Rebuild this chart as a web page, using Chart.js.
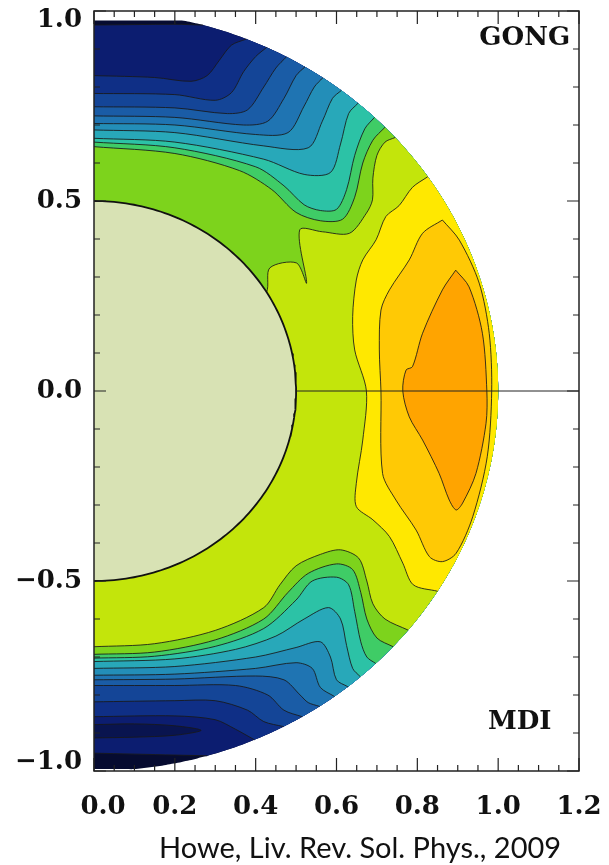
<!DOCTYPE html>
<html>
<head>
<meta charset="utf-8">
<script src="https://cdn.jsdelivr.net/npm/chart.js@4.4.1/dist/chart.umd.min.js"></script>
<style>
  body { margin: 0; background: #fff; }
  #wrap { position: relative; width: 609px; height: 865px; }
  #caption {
    position: absolute; left: 159px; top: 829px;
    font: 29px Lato, "Open Sans", sans-serif; color: #111; white-space: nowrap;
  }
</style>
</head>
<body>
<div id="wrap">
  <canvas id="rotChart" width="609" height="865"></canvas>
  <div id="caption">Howe, Liv. Rev. Sol. Phys., 2009</div>
</div>
<script>
// contour colours, slowest (pole) to fastest (equator, near surface)
const bandColors = ['#060b30', '#0c1d70', '#0f2f86', '#144597', '#1a5ca6', '#1f74b2', '#238eb8',
                    '#28a8b9', '#2cc2a6', '#3fcc66', '#7dd31c', '#c3e50b', '#ffe800', '#ffc905', '#ffa400'];
const tongueColor = '#09144f';
const coreColor = '#d8e2b4';
const coreRadius = 0.5;

// northern contours (GONG), from the axis out to the surface; line k separates band k-1 and k
const north = [
    [[0, 0.963], [0.2, 0.965], [0.27, 0.963]],
    [[0, 0.83], [0.15, 0.825], [0.24, 0.815], [0.28, 0.83], [0.31, 0.87], [0.34, 0.91], [0.377, 0.926]],
    [[0, 0.783], [0.2, 0.78], [0.3, 0.765], [0.34, 0.785], [0.37, 0.84], [0.40, 0.88], [0.427, 0.904]],
    [[0, 0.748], [0.2, 0.745], [0.33, 0.73], [0.38, 0.74], [0.42, 0.80], [0.45, 0.85], [0.476, 0.879]],
    [[0, 0.724], [0.2, 0.72], [0.37, 0.70], [0.43, 0.71], [0.47, 0.77], [0.50, 0.83], [0.522, 0.853]],
    [[0, 0.704], [0.2, 0.70], [0.4, 0.675], [0.48, 0.68], [0.52, 0.75], [0.545, 0.80], [0.566, 0.824]],
    [[0, 0.687], [0.2, 0.68], [0.42, 0.645], [0.53, 0.64], [0.565, 0.71], [0.59, 0.77], [0.612, 0.791]],
    [[0, 0.665], [0.2, 0.655], [0.42, 0.61], [0.52, 0.57], [0.585, 0.575], [0.61, 0.65], [0.63, 0.73], [0.653, 0.757]],
    [[0, 0.655], [0.2, 0.64], [0.4, 0.59], [0.47, 0.54], [0.52, 0.49], [0.56, 0.475], [0.6, 0.478], [0.625, 0.53],
     [0.645, 0.62], [0.67, 0.69], [0.694, 0.72]],
    [[0, 0.643], [0.2, 0.625], [0.36, 0.58], [0.44, 0.53], [0.5, 0.47], [0.56, 0.448], [0.615, 0.452], [0.645, 0.51],
     [0.665, 0.6], [0.69, 0.66], [0.72, 0.694]],
    [[0, 0.1], [0.38, 0.2], [0.427, 0.26], [0.435, 0.324], [0.501, 0.337], [0.526, 0.284], [0.509, 0.424],
     [0.565, 0.419], [0.632, 0.415], [0.674, 0.468], [0.689, 0.503], [0.69, 0.56], [0.70, 0.62], [0.72, 0.655], [0.745, 0.667]]
];

// southern contours (MDI), same order
const south = [
    [[0, -0.953], [0.2, -0.958], [0.28, -0.96]],
    [[0, -0.857], [0.2, -0.855], [0.3, -0.865], [0.35, -0.89], [0.397, -0.918]],
    [[0, -0.818], [0.2, -0.815], [0.3, -0.815], [0.38, -0.84], [0.42, -0.87], [0.469, -0.883]],
    [[0, -0.775], [0.2, -0.775], [0.35, -0.775], [0.43, -0.80], [0.47, -0.84], [0.515, -0.857]],
    [[0, -0.76], [0.2, -0.758], [0.4, -0.75], [0.47, -0.76], [0.51, -0.80], [0.53, -0.82], [0.558, -0.830]],
    [[0, -0.748], [0.2, -0.745], [0.4, -0.73], [0.5, -0.715], [0.54, -0.73], [0.56, -0.78], [0.595, -0.804]],
    [[0, -0.73], [0.2, -0.725], [0.4, -0.70], [0.5, -0.675], [0.56, -0.66], [0.585, -0.70], [0.60, -0.76], [0.628, -0.778]],
    [[0, -0.712], [0.2, -0.705], [0.35, -0.68], [0.45, -0.645], [0.52, -0.60], [0.58, -0.57], [0.61, -0.6], [0.625, -0.67],
     [0.64, -0.73], [0.659, -0.752]],
    [[0, -0.703], [0.15, -0.698], [0.3, -0.672], [0.42, -0.625], [0.5, -0.55], [0.54, -0.50], [0.6, -0.49], [0.63, -0.51],
     [0.645, -0.58], [0.66, -0.66], [0.675, -0.70], [0.697, -0.717]],
    [[0, -0.693], [0.15, -0.687], [0.3, -0.655], [0.42, -0.60], [0.48, -0.53], [0.53, -0.48], [0.6, -0.455], [0.64, -0.47],
     [0.66, -0.53], [0.675, -0.6], [0.70, -0.65], [0.74, -0.673]],
    [[0, -0.673], [0.15, -0.665], [0.3, -0.63], [0.42, -0.57], [0.46, -0.51], [0.5, -0.46], [0.56, -0.43], [0.61, -0.418],
     [0.655, -0.44], [0.675, -0.5], [0.69, -0.56], [0.72, -0.60], [0.777, -0.629]]
];

// slow tongue inside the southern polar band
const polarTongue = [[0, -0.878], [0.1, -0.876], [0.2, -0.881], [0.265, -0.893], [0.2, -0.906], [0.1, -0.911], [0, -0.913]];

// fast belt near the surface: yellow edge runs surface to surface, gold and orange are closed
const yellowEdge = [[0.826, 0.564], [0.788, 0.536], [0.755, 0.488], [0.722, 0.459], [0.698, 0.398], [0.665, 0.345],
    [0.649, 0.292], [0.640, 0.196], [0.645, 0.108], [0.674, 0], [0.665, -0.129], [0.649, -0.243], [0.649, -0.304],
    [0.690, -0.339], [0.731, -0.383], [0.764, -0.453], [0.79, -0.51], [0.85, -0.527]];
const goldEdge = [[0.862, 0.45], [0.813, 0.415], [0.780, 0.345], [0.731, 0.266], [0.710, 0.213], [0.706, 0.108],
    [0.710, 0], [0.714, -0.217], [0.747, -0.287], [0.797, -0.366], [0.830, -0.436], [0.862, -0.449], [0.896, -0.427],
    [0.937, -0.331], [0.973, -0.173], [0.984, 0], [0.978, 0.151], [0.953, 0.284], [0.904, 0.397], [0.862, 0.45]];
const orangeEdge = [[0.895, 0.318], [0.862, 0.266], [0.813, 0.152], [0.788, 0.064], [0.772, 0.055], [0.764, 0],
    [0.780, -0.068], [0.813, -0.129], [0.854, -0.217], [0.879, -0.287], [0.896, -0.313], [0.912, -0.295],
    [0.945, -0.217], [0.970, -0.085], [0.972, 0], [0.961, 0.152], [0.928, 0.274], [0.895, 0.318]];

// latitude cut of the inversion at the poles
const yTop = 0.975;
const yBottom = -0.995;

const xMajor = [0, 0.2, 0.4, 0.6, 0.8, 1.0, 1.2];
const yMajor = [-1, -0.5, 0, 0.5, 1];
const panelLabels = [
    { text: 'GONG', x: 1.178, y: 0.928 },
    { text: 'MDI', x: 1.132, y: -0.872 }
];

// --- geometry helpers ---
function onSurface(p) {
    const r = Math.hypot(p[0], p[1]);
    return [p[0] / r, p[1] / r];
}
function arc(a0, a1, rad) {
    const pts = [];
    const n = Math.max(2, Math.ceil(Math.abs(a1 - a0) / 0.02));
    for (let i = 0; i <= n; i++) {
        const a = a0 + (a1 - a0) * i / n;
        pts.push([rad * Math.cos(a), Math.max(yBottom, Math.min(yTop, rad * Math.sin(a)))]);
    }
    return pts;
}
function angleOf(p) { return Math.atan2(p[1], p[0]); }
function toXY(pts) { return pts.map(([x, y]) => ({ x, y })); }
function withSurfaceEnd(line) {
    const out = line.slice();
    out[out.length - 1] = onSurface(out[out.length - 1]);
    return out;
}

// --- datasets, in painting order ---
const layers = [];
function addFill(pts, color) {
    layers.push({ data: toXY(pts), showLine: true, fill: 'shape', backgroundColor: color,
                  borderWidth: 0, borderColor: 'rgba(0,0,0,0)', pointRadius: 0, tension: 0.3 });
}
function addLine(pts, color, width, tension) {
    layers.push({ data: toXY(pts), showLine: true, fill: false, borderColor: color,
                  borderWidth: width, pointRadius: 0, tension: tension });
}

// whole half disk in the slowest colour
addFill([[0, yTop], ...arc(Math.PI / 2, -Math.PI / 2, 1), [0, yBottom]], bandColors[0]);

// bands 1..11: region between the northern and southern contour of the same level
for (let k = 1; k <= north.length; k++) {
    const up = withSurfaceEnd(north[k - 1]);
    const dn = withSurfaceEnd(south[k - 1]);
    const poly = [...up, ...arc(angleOf(up[up.length - 1]), angleOf(dn[dn.length - 1]), 1), ...dn.slice().reverse()];
    addFill(poly, bandColors[k]);
}
addFill(polarTongue, tongueColor);

const yEdge = withSurfaceEnd(yellowEdge);
yEdge[0] = onSurface(yEdge[0]);
addFill([...yEdge, ...arc(angleOf(yEdge[yEdge.length - 1]), angleOf(yEdge[0]), 1)], bandColors[12]);
addFill(goldEdge, bandColors[13]);
addFill(orangeEdge, bandColors[14]);

// contour lines
const lineColor = 'rgba(25,25,25,0.85)';
north.forEach(l => addLine(withSurfaceEnd(l), lineColor, 1, 0.3));
south.forEach(l => addLine(withSurfaceEnd(l), lineColor, 1, 0.3));
addLine(polarTongue, lineColor, 1, 0.3);
addLine(yEdge, lineColor, 1, 0.3);
addLine(goldEdge, lineColor, 1, 0.3);
addLine(orangeEdge, lineColor, 1, 0.3);

// radiative interior and equator
layers.push({ data: toXY(arc(Math.PI / 2, -Math.PI / 2, coreRadius)), showLine: true, fill: 'shape',
              backgroundColor: coreColor, borderColor: '#111', borderWidth: 1.8, pointRadius: 0, tension: 0 });
addLine([[coreRadius, 0], [1.2, 0]], '#222', 1, 0);

// highest order is painted first
layers.forEach((ds, i) => { ds.order = 1000 - i; });

const fmt = v => (v < 0 ? '\u2212' : '') + Math.abs(v).toFixed(1);
const tickFont = { family: 'DejaVu Serif', weight: 'bold', size: 26, lineHeight: 0.7 };

// box with inward ticks on all four sides
const frameTicks = {
    id: 'frameTicks',
    afterDatasetsDraw(chart) {
        const { ctx, chartArea: a, scales: { x, y } } = chart;
        ctx.save();
        ctx.strokeStyle = '#222';
        ctx.lineWidth = 1.5;
        ctx.strokeRect(a.left, a.top, a.right - a.left, a.bottom - a.top);
        ctx.lineWidth = 1.2;
        ctx.beginPath();
        for (let i = 0; i <= 24; i++) {
            const v = i * 0.05;
            const len = i % 4 === 0 ? 13 : 6;
            const px = x.getPixelForValue(v);
            ctx.moveTo(px, a.bottom); ctx.lineTo(px, a.bottom - len);
            ctx.moveTo(px, a.top); ctx.lineTo(px, a.top + len);
        }
        for (let i = -10; i <= 10; i++) {
            const len = i % 5 === 0 ? 12 : 6;
            const py = y.getPixelForValue(i / 10);
            ctx.moveTo(a.left, py); ctx.lineTo(a.left + len, py);
            ctx.moveTo(a.right, py); ctx.lineTo(a.right - len, py);
        }
        ctx.stroke();

        ctx.fillStyle = '#111';
        ctx.font = 'bold 26px "DejaVu Serif"';
        ctx.textAlign = 'right';
        ctx.textBaseline = 'middle';
        panelLabels.forEach(l => ctx.fillText(l.text, x.getPixelForValue(l.x), y.getPixelForValue(l.y)));
        ctx.restore();
    }
};

new Chart(document.getElementById('rotChart'), {
    type: 'scatter',
    data: { datasets: layers },
    options: {
        responsive: false,
        animation: false,
        layout: { padding: { top: 11, right: 30, left: 0, bottom: 0 } },
        plugins: { legend: { display: false }, tooltip: { enabled: false } },
        scales: {
            x: {
                type: 'linear', min: 0, max: 1.2,
                afterFit: s => { s.height = 94; s.paddingLeft = 0; s.paddingRight = 0; },
                afterBuildTicks: s => { s.ticks = xMajor.map(v => ({ value: v })); },
                grid: { display: false, drawTicks: false },
                border: { display: false },
                ticks: {
                    // first label nudged right, clear of the y labels
                    callback: v => v === 0 ? '\u2007' + fmt(v) : fmt(v),
                    font: tickFont, color: '#111', padding: 27, maxRotation: 0, autoSkip: false
                }
            },
            y: {
                type: 'linear', min: -1, max: 1,
                afterFit: s => { s.width = 94; s.paddingTop = 0; s.paddingBottom = 0; },
                afterBuildTicks: s => { s.ticks = yMajor.map(v => ({ value: v })); },
                grid: { display: false, drawTicks: false },
                border: { display: false },
                ticks: {
                    // end labels sit inside the frame
                    callback: v => v === 1 ? ['', fmt(v)] : v === -1 ? [fmt(v), ''] : fmt(v),
                    font: tickFont, color: '#111', padding: 12, autoSkip: false
                }
            }
        }
    },
    plugins: [frameTicks]
});
</script>
</body>
</html>
